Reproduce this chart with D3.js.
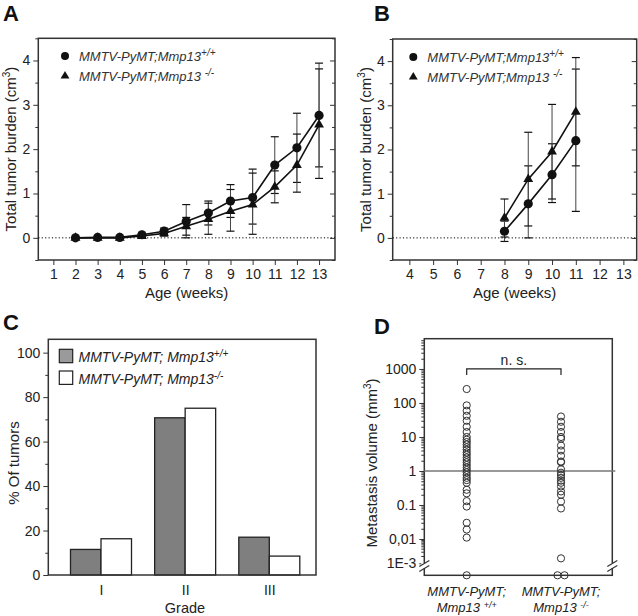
<!DOCTYPE html>
<html><head><meta charset="utf-8">
<script src="https://cdn.jsdelivr.net/npm/d3@7"></script>
<style>body{margin:0;background:#fff} svg text{font-family:"Liberation Sans",Arial,sans-serif}</style>
</head><body><svg id="c" width="638" height="616"></svg>
<script>
// ---------------- DATA ----------------
const legendBase = "MMTV-PyMT;Mmp13";
const legendSupWT = "+/+";
const legendSupKO = "-/-";

// Panel A
const weeksA = [2,3,4,5,6,7,8,9,10,11,12,13];
const wtA    = [0,0.01,0.01,0.07,0.15,0.37,0.56,0.83,0.91,1.64,2.03,2.76];
const wtAhi  = [0,0.01,0.01,0.10,0.22,0.75,0.83,1.20,1.55,2.28,2.81,3.94];
const wtAlo  = [0,0.01,0.01,0.04,0.08,0.00,0.29,0.46,0.31,1.00,1.25,1.60];
const koA    = [0,0,0,0.04,0.10,0.26,0.42,0.60,0.75,1.15,1.64,2.55];
const koAhi  = [0,0,0,0.07,0.17,0.46,0.78,1.09,1.46,1.51,2.34,3.81];
const koAlo  = [0,0,0,0.01,0.04,0.06,0.08,0.15,0.08,0.79,1.03,1.34];
const xTicksA = [1,2,3,4,5,6,7,8,9,10,11,12,13];

// Panel B
const weeksB = [8,9,10,11];
const wtB    = [0.15,0.77,1.43,2.20];
const wtBhi  = [0.38,1.63,2.13,3.82];
const wtBlo  = [-0.08,0.00,0.80,0.60];
const koB    = [0.45,1.33,1.95,2.85];
const koBhi  = [0.88,2.39,3.02,4.08];
const koBlo  = [0.02,0.27,0.88,1.63];
const xTicksB = [4,5,6,7,8,9,10,11,12,13];

const yTicksAB = [0,1,2,3,4];
const yMinorAB = [-0.5,0.5,1.5,2.5,3.5,4.5];

// Panel C
const grades = ["I","II","III"];
const wtC = [11.5,70.7,17.0];
const koC = [16.3,75.0,8.5];
const yTicksC = [0,20,40,60,80,100];
const yMinorC = [10,30,50,70,90];

// Panel D (mm^3; 0 = below detection, drawn on the bottom axis)
const wtD = [257,85,59,42,30,20,14,10,8.3,7.1,6.0,5.0,4.2,3.5,3.0,2.5,2.1,1.8,1.5,1.26,1.07,0.91,0.76,0.63,0.54,0.45,0.28,0.22,0.13,0.09,0.03,0.019,0.011,0];
const koD = [40,28,20,14,10,8.9,5.6,4.0,2.8,1.9,1.8,1.12,0.89,0.76,0.63,0.52,0.45,0.35,0.25,0.2,0.126,0.079,0.0016,0,0];
const yTicksD = [1000,100,10,1,0.1,0.01,0.001];
const yTickLabelsD = ["1000","100","10","1","0.1","0,01","1E-3"];
const groupsD = ["wt","ko"];

// ---------------- DRAWING ----------------
const svg = d3.select("#c");
const INK = "#222";

function styleAxis(sel, fs){
  sel.select(".domain").remove();
  sel.selectAll("line").attr("stroke","#333").attr("stroke-width",1);
  sel.selectAll("text").attr("font-size",fs||14).attr("fill",INK)
     .attr("font-family","'Liberation Sans',Arial,sans-serif");
}
function frame(P){
  svg.append("rect").attr("x",P.x0).attr("y",P.y0).attr("width",P.x1-P.x0).attr("height",P.y1-P.y0)
    .attr("fill","none").attr("stroke","#333").attr("stroke-width",1.5);
}
function panelLetter(t,x,y){
  svg.append("text").attr("x",x).attr("y",y).attr("font-size",22).attr("font-weight","bold").attr("fill","#111").text(t);
}
function supText(sel, base, sup, supDy, fs){
  sel.append("tspan").text(base);
  sel.append("tspan").attr("dy",supDy).attr("font-size",fs).text(sup);
}

function linePanel(P, xd, xticks, weeks, wt, wthi, wtlo, ko, kohi, kolo, leg){
  const x = d3.scaleLinear(xd,[P.x0,P.x1]);
  const y = d3.scaleLinear([-0.5,4.5],[P.y1,P.y0]);
  svg.append("g").attr("transform",`translate(${P.x0},0)`)
    .call(d3.axisLeft(y).tickValues(yTicksAB).tickSize(5).tickPadding(3).tickFormat(d3.format("d"))).call(styleAxis);
  svg.append("g").attr("transform",`translate(${P.x0},0)`)
    .call(d3.axisLeft(y).tickValues(yMinorAB).tickSize(3).tickFormat("")).call(styleAxis);
  svg.append("g").attr("transform",`translate(${P.x1},0)`)
    .call(d3.axisLeft(y).tickValues(yTicksAB).tickSize(5).tickFormat("")).call(styleAxis);
  svg.append("g").attr("transform",`translate(${P.x1},0)`)
    .call(d3.axisLeft(y).tickValues(yMinorAB).tickSize(3).tickFormat("")).call(styleAxis);
  svg.append("g").attr("transform",`translate(0,${P.y1})`)
    .call(d3.axisBottom(x).tickValues(xticks).tickSize(5).tickPadding(4)).call(styleAxis);
  frame(P);
  svg.append("line").attr("x1",P.x0).attr("x2",P.x1).attr("y1",y(0)).attr("y2",y(0))
    .attr("stroke","#000").attr("stroke-width",1).attr("stroke-dasharray","1.2,2.2");
  function errs(hi, lo){
    const g = svg.append("g");
    weeks.forEach((w,i)=>{
      if (hi[i]-lo[i] < 0.05) return;
      g.append("line").attr("x1",x(w)).attr("x2",x(w)).attr("y1",y(hi[i])).attr("y2",y(lo[i])).attr("stroke","#444").attr("stroke-width",1);
      [hi[i],lo[i]].forEach(v=>g.append("line").attr("x1",x(w)-4).attr("x2",x(w)+4).attr("y1",y(v)).attr("y2",y(v)).attr("stroke","#111").attr("stroke-width",1.2));
    });
  }
  errs(wthi,wtlo); errs(kohi,kolo);
  const line = d3.line().x((d,i)=>x(weeks[i])).y(d=>y(d));
  svg.append("path").attr("d",line(ko)).attr("fill","none").attr("stroke","#111").attr("stroke-width",1.6);
  svg.append("path").attr("d",line(wt)).attr("fill","none").attr("stroke","#111").attr("stroke-width",1.6);
  const tri = d3.symbol(d3.symbolTriangle, 42);
  ko.forEach((v,i)=>svg.append("path").attr("d",tri()).attr("transform",`translate(${x(weeks[i])},${y(v)})`).attr("fill","#111"));
  wt.forEach((v,i)=>svg.append("circle").attr("cx",x(weeks[i])).attr("cy",y(v)).attr("r",4.6).attr("fill","#111"));
  svg.append("circle").attr("cx",leg.x).attr("cy",leg.y).attr("r",4).attr("fill","#111");
  svg.append("path").attr("d",d3.symbol(d3.symbolTriangle,34)()).attr("transform",`translate(${leg.x},${leg.y+20})`).attr("fill","#111");
  const t1 = svg.append("text").attr("x",leg.x+14).attr("y",leg.y+5).attr("font-size",13).attr("font-style","italic").attr("fill","#333");
  supText(t1, legendBase, legendSupWT, -5, 10);
  const t2 = svg.append("text").attr("x",leg.x+14).attr("y",leg.y+25).attr("font-size",13).attr("font-style","italic").attr("fill","#333");
  supText(t2, legendBase+" ", legendSupKO, -5, 10);
  const yt = svg.append("text").attr("transform",`translate(${leg.ylabX},${(P.y0+P.y1)/2}) rotate(-90)`)
    .attr("text-anchor","middle").attr("font-size",15).attr("fill",INK);
  yt.append("tspan").text("Total tumor burden (cm");
  yt.append("tspan").attr("dy",-6).attr("font-size",10).text("3");
  yt.append("tspan").attr("dy",6).text(")");
  svg.append("text").attr("x",(P.x0+P.x1)/2).attr("y",298).attr("text-anchor","middle").attr("font-size",15).attr("fill",INK).text("Age (weeks)");
}

panelLetter("A",3,21);
linePanel({x0:38.3,x1:335,y0:38.3,y1:260},[0.32,13.72],xTicksA,weeksA,wtA,wtAhi,wtAlo,koA,koAhi,koAlo,{x:65,y:56,ylabX:16});
panelLetter("B",374,21);
linePanel({x0:392.7,x1:636.7,y0:39,y1:260},[3.3,13.56],xTicksB,weeksB,wtB,wtBhi,wtBlo,koB,koBhi,koBlo,{x:413.3,y:57,ylabX:371});

panelLetter("C",3,330);
(function(){
  const P = {x0:48.3,x1:316,y0:339.3,y1:575};
  const y = d3.scaleLinear([0,106],[P.y1,P.y0]);
  const xg = d3.scalePoint(grades,[101,269.3]);
  const xs = d3.scaleBand(["wt","ko"],[-30.5,30.5]);
  svg.append("g").attr("transform",`translate(${P.x0},0)`)
    .call(d3.axisLeft(y).tickValues(yTicksC).tickSize(5).tickPadding(3)).call(styleAxis);
  svg.append("g").attr("transform",`translate(${P.x0},0)`)
    .call(d3.axisLeft(y).tickValues(yMinorC).tickSize(3).tickFormat("")).call(styleAxis);
  svg.append("g").attr("transform",`translate(0,${P.y1})`)
    .call(d3.axisBottom(xg).tickSize(0).tickPadding(10)).call(styleAxis);
  const series = [["wt",wtC,"#7f7f7f"],["ko",koC,"#fff"]];
  series.forEach(([k,vals,col])=>{
    grades.forEach((g,i)=>{
      svg.append("rect").attr("x",xg(g)+xs(k)).attr("y",y(vals[i])).attr("width",xs.bandwidth())
        .attr("height",y(0)-y(vals[i])).attr("fill",col).attr("stroke","#222").attr("stroke-width",1.3);
    });
  });
  frame(P);
  [["#9a9a9a",legendSupWT,349.3],["#fff",legendSupKO,371]].forEach(([col,sup,yy])=>{
    svg.append("rect").attr("x",59.3).attr("y",yy).attr("width",13.4).attr("height",13.4).attr("fill",col).attr("stroke","#222").attr("stroke-width",1.2);
    const t = svg.append("text").attr("x",78.5).attr("y",yy+13).attr("font-size",14).attr("font-style","italic").attr("fill",INK);
    supText(t,"MMTV-PyMT; Mmp13",sup,-5,10);
  });
  svg.append("text").attr("transform",`translate(19,463) rotate(-90)`).attr("text-anchor","middle").attr("font-size",15).attr("fill",INK).text("% Of tumors");
  svg.append("text").attr("x",185).attr("y",613).attr("text-anchor","middle").attr("font-size",14.5).attr("fill",INK).text("Grade");
})();

panelLetter("D",374,334);
(function(){
  const P = {x0:424.3,x1:612.3,y0:338.7,y1:575.3};
  const y = d3.scaleLog([0.001,0.01,Math.pow(10,3.89)],[563.3,539,P.y0]);
  const yv = v => v>0 ? y(v) : P.y1;
  const x = d3.scalePoint(groupsD,[466.7,561]);
  const minor = [];
  for (let e=-3;e<=3;e++) for (let m=2;m<=9;m++){ const v=m*Math.pow(10,e); if (v<Math.pow(10,3.89)) minor.push(v); }
  svg.append("g").attr("transform",`translate(${P.x0},0)`)
    .call(d3.axisLeft(y).tickValues(minor).tickSize(3).tickFormat("")).call(styleAxis);
  svg.append("g").attr("transform",`translate(${P.x0},0)`)
    .call(d3.axisLeft(y).tickValues(yTicksD).tickSize(5).tickPadding(3).tickFormat((d,i)=>yTickLabelsD[i])).call(styleAxis);
  frame(P);
  [P.x0,P.x1].forEach(bx=>{
    const by = 566;
    svg.append("rect").attr("x",bx-3).attr("y",by-3).attr("width",6).attr("height",5).attr("fill","#fff");
    [-2.5,2.5].forEach(o=>svg.append("line").attr("x1",bx-5).attr("x2",bx+5).attr("y1",by+o+3).attr("y2",by+o-3).attr("stroke","#333").attr("stroke-width",1.2));
  });
  svg.append("line").attr("x1",P.x0).attr("x2",P.x1+3).attr("y1",y(1)).attr("y2",y(1)).attr("stroke","#777").attr("stroke-width",1.6);
  [["wt",wtD],["ko",koD]].forEach(([k,vals])=>{
    const zeros = vals.filter(v=>v===0).length;
    let zi = 0;
    vals.forEach(v=>{
      let cx = x(k);
      if (v===0){ cx += (zi - (zeros-1)/2)*7; zi++; }
      svg.append("circle").attr("cx",cx).attr("cy",yv(v)).attr("r",3.6).attr("fill","none").attr("stroke","#333").attr("stroke-width",1);
    });
  });
  const by = y(1000);
  svg.append("path").attr("d",`M${x("wt")},${by+6}V${by}H${x("ko")}V${by+6}`).attr("fill","none").attr("stroke","#222").attr("stroke-width",1.2);
  svg.append("text").attr("x",(x("wt")+x("ko"))/2).attr("y",by-4).attr("text-anchor","middle").attr("font-size",14).attr("fill",INK).text("n. s.");
  [["wt",legendSupWT],["ko",legendSupKO]].forEach(([k,sup])=>{
    svg.append("text").attr("x",x(k)).attr("y",596).attr("text-anchor","middle").attr("font-size",13).attr("font-style","italic").attr("fill",INK).text("MMTV-PyMT;");
    const t = svg.append("text").attr("x",x(k)).attr("y",612).attr("text-anchor","middle").attr("font-size",13).attr("font-style","italic").attr("fill",INK);
    supText(t,"Mmp13 ",sup,-4,9);
  });
  const yt = svg.append("text").attr("transform",`translate(377,463) rotate(-90)`).attr("text-anchor","middle").attr("font-size",15).attr("fill",INK);
  yt.append("tspan").text("Metastasis volume (mm");
  yt.append("tspan").attr("dy",-6).attr("font-size",10).text("3");
  yt.append("tspan").attr("dy",6).text(")");
})();
</script></body></html>
